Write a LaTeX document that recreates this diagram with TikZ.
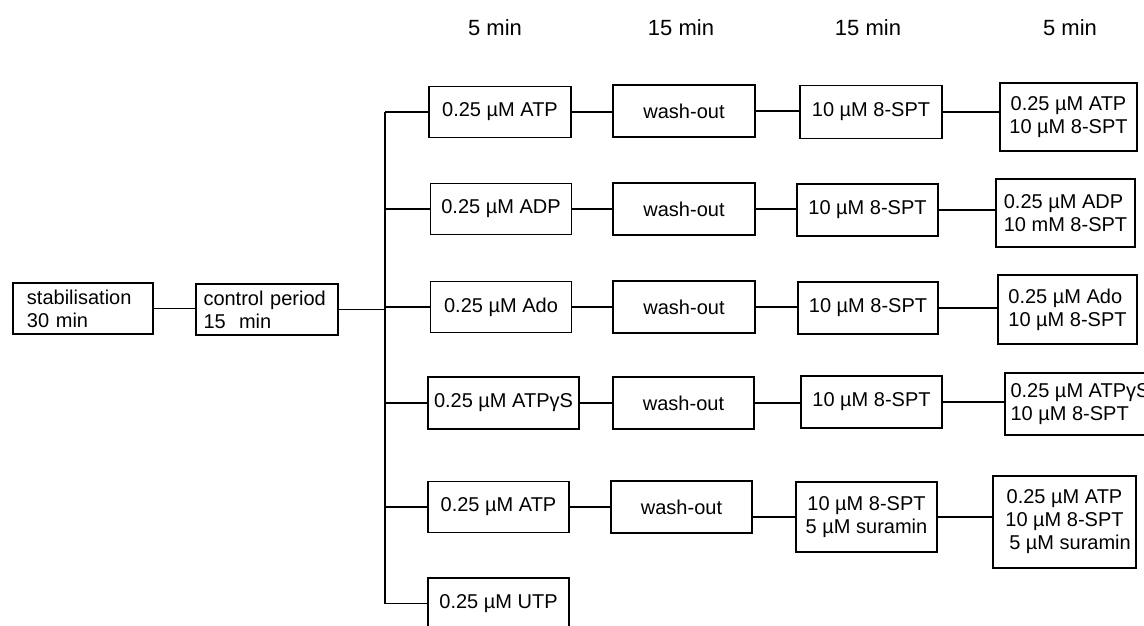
\documentclass[tikz,border=0pt]{standalone}
\usepackage{fontspec}
\setmainfont{Liberation Sans}
\begin{document}
\begin{tikzpicture}[x=1pt,y=-1pt,
  box/.style={draw, line width=1.6pt, rectangle, inner sep=0pt,
    font=\fontsize{20}{23}\selectfont, align=center},
  lbox/.style={box, align=left},
  hdr/.style={font=\fontsize{22}{26}\selectfont},
  conn/.style={line width=1.5pt}]
\useasboundingbox (0,0) rectangle (1144,625);
\clip (0,0) rectangle (1144,625);
% headers
\node[hdr] (h1) at (495,28) {5 min};
\node[hdr] (h2) at (681,28) {15 min};
\node[hdr] (h3) at (868,28) {15 min};
\node[hdr] (h4) at (1070,28) {5 min};
% left boxes
\node[lbox, minimum width=140, minimum height=51, text width=112, inner xsep=14] (stab) at (83,308.5) {stabilisation\\30 min};
\node[lbox, minimum width=142, minimum height=51, text width=127, inner xsep=7.5] (ctrl) at (267,309.5) {control period\\15\ \ min};
% column 1
\node[box, minimum width=142, minimum height=51] (c1) at (500,112) {0.25 µM ATP};
\node[box, minimum width=141, minimum height=51] (c2) at (501,209) {0.25 µM ADP};
\node[box, minimum width=141, minimum height=51] (c3) at (501,307) {0.25 µM Ado};
\node[box, minimum width=151, minimum height=52] (c4) at (503.5,403) {0.25 µM ATPγS};
\node[box, minimum width=141, minimum height=51] (c5) at (498.5,507) {0.25 µM ATP};
\node[box, minimum width=141, minimum height=51] (c6) at (498.5,603.5) {0.25 µM UTP};
% wash-out
\node[box, minimum width=142, minimum height=52] (w1) at (684,111) {wash-out};
\node[box, minimum width=142, minimum height=52] (w2) at (684,209) {wash-out};
\node[box, minimum width=142, minimum height=52] (w3) at (684,307) {wash-out};
\node[box, minimum width=141, minimum height=52] (w4) at (683.5,403) {wash-out};
\node[box, minimum width=141, minimum height=52] (w5) at (681.5,507) {wash-out};
% 8-SPT
\node[box, minimum width=142, minimum height=53] (s1) at (871,112) {10 µM 8-SPT};
\node[box, minimum width=141, minimum height=52] (s2) at (867.5,210) {10 µM 8-SPT};
\node[box, minimum width=140, minimum height=52] (s3) at (868,308) {10 µM 8-SPT};
\node[box, minimum width=141, minimum height=52] (s4) at (871.5,402) {10 µM 8-SPT};
\node[box, minimum width=141, minimum height=70] (s5) at (866.5,517) {10 µM 8-SPT\\5 µM suramin};
% final
\node[box, minimum width=137, minimum height=68] (f1) at (1068.5,117) {0.25 µM ATP\\10 µM 8-SPT};
\node[lbox, minimum width=139, minimum height=68] (f2) at (1065.5,213) {0.25 µM ADP\\10 mM 8-SPT};
\node[lbox, minimum width=139, minimum height=69] (f3) at (1067.5,309.5) {0.25 µM Ado\\10 µM 8-SPT};
\node[lbox, minimum width=150, minimum height=62] (f4) at (1080,404) {0.25 µM ATPγS\\10 µM 8-SPT};
\node[box, minimum width=143, minimum height=92] (f5) at (1064.5,522) {0.25 µM ATP\\10 µM 8-SPT\\\ \ 5 µM suramin};
% connectors
\coordinate (sp) at (385,0);
\draw[conn] (stab.east) -- (stab.east -| ctrl.west);
\draw[conn] (ctrl.east) -- (ctrl.east -| sp);
\draw[conn] (c1.west -| sp) -- (c6.west -| sp);
\foreach \i in {1,...,6} {\draw[conn] (c\i.west -| sp) -- (c\i.west);}
\foreach \i in {1,...,5} {\draw[conn] (c\i.east) -- (c\i.east -| w\i.west);}
\foreach \i in {1,...,4} {\draw[conn] (w\i.east) -- (w\i.east -| s\i.west);}
\draw[conn] (s5.west -| w5.east) -- (s5.west);
\foreach \i in {1,...,5} {\draw[conn] (s\i.east) -- (s\i.east -| f\i.west);}
\end{tikzpicture}
\end{document}
